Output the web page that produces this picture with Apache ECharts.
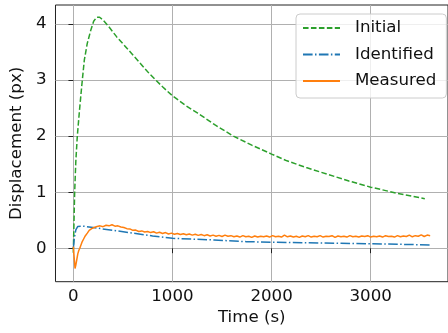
<!DOCTYPE html>
<html>
<head>
<meta charset="utf-8">
<script src="https://cdn.jsdelivr.net/npm/echarts@6/dist/echarts.min.js"></script>
<style>html,body{margin:0;padding:0;background:#fff}#c{width:448px;height:333px}</style>
</head>
<body>
<div id="c"></div>
<script>
const xTicks = [0, 1000, 2000, 3000];
const yTicks = [0, 1, 2, 3, 4];

const initialT = [0, 5, 13, 25, 40, 62, 85, 111, 140, 176, 205, 235, 265, 300, 350, 438, 550, 650, 764, 900, 1000, 1130, 1255, 1430, 1615, 1800, 2000, 2155, 2350, 2564, 2780, 3000, 3270, 3546];
const initialV = [-0.08, 0.35, 0.98, 1.55, 2.0, 2.46, 2.9, 3.36, 3.65, 3.89, 4.05, 4.12, 4.12, 4.07, 3.97, 3.77, 3.55, 3.35, 3.12, 2.88, 2.72, 2.55, 2.41, 2.2, 2.0, 1.84, 1.68, 1.56, 1.44, 1.32, 1.2, 1.09, 0.98, 0.885];

const identT = [0, 10, 25, 45, 60, 100, 200, 400, 600, 800, 1000, 1419, 1745, 2000, 2500, 3000, 3600];
const identV = [0.0, 0.18, 0.33, 0.39, 0.40, 0.395, 0.37, 0.32, 0.27, 0.22, 0.178, 0.148, 0.118, 0.107, 0.093, 0.082, 0.06];

const measT = [0, 5, 10, 17, 25, 35, 45, 55, 65, 76, 90, 105, 120, 141, 160, 185,
  210, 240, 270, 300, 330, 360, 390, 420, 450, 480, 510, 540, 570, 600, 630, 660, 690, 720, 750, 780,
  810, 840, 870, 900, 930, 960, 990, 1020, 1050, 1080, 1110, 1140, 1170, 1200, 1230, 1260, 1290, 1320,
  1350, 1380, 1410, 1440, 1470, 1500, 1530, 1560, 1590, 1620, 1650, 1680, 1710, 1740, 1770, 1800, 1830,
  1860, 1890, 1920, 1950, 1980, 2010, 2040, 2070, 2100, 2130, 2160, 2190, 2220, 2250, 2280, 2310, 2340,
  2370, 2400, 2430, 2460, 2490, 2520, 2550, 2580, 2610, 2640, 2670, 2700, 2730, 2760, 2790, 2820, 2850,
  2880, 2910, 2940, 2970, 3000, 3030, 3060, 3090, 3120, 3150, 3180, 3210, 3240, 3270, 3300, 3330, 3360,
  3390, 3420, 3450, 3480, 3510, 3540, 3570, 3600];
const measV = [0.03, 0.0, -0.2, -0.36, -0.3, -0.2, -0.1, -0.04, 0.0, 0.03, 0.12, 0.17, 0.22, 0.27, 0.32, 0.35,
  0.37, 0.39, 0.40, 0.385, 0.41, 0.40, 0.42, 0.395, 0.40, 0.38, 0.37, 0.35, 0.345, 0.32, 0.325, 0.30, 0.31, 0.29, 0.30, 0.28,
  0.295, 0.27, 0.285, 0.265, 0.28, 0.255, 0.27, 0.25, 0.265, 0.245, 0.26, 0.24, 0.255, 0.235, 0.25, 0.23, 0.245, 0.225,
  0.24, 0.22, 0.235, 0.215, 0.23, 0.21, 0.235, 0.215, 0.225, 0.205, 0.22, 0.20, 0.225, 0.205, 0.215, 0.195, 0.22,
  0.20, 0.215, 0.205, 0.22, 0.20, 0.225, 0.205, 0.215, 0.20, 0.235, 0.205, 0.22, 0.20, 0.215, 0.195, 0.22, 0.205,
  0.225, 0.20, 0.215, 0.205, 0.225, 0.20, 0.215, 0.21, 0.225, 0.195, 0.22, 0.205, 0.215, 0.20, 0.225, 0.205, 0.215,
  0.20, 0.22, 0.21, 0.225, 0.20, 0.215, 0.205, 0.22, 0.20, 0.225, 0.21, 0.215, 0.20, 0.225, 0.205, 0.22, 0.21,
  0.235, 0.205, 0.225, 0.215, 0.24, 0.21, 0.235, 0.225];

const zip = (a, b) => a.map((t, i) => [t, b[i]]);
const FONT = 'DejaVu Sans';
const FS = 16.67;

const chart = echarts.init(document.getElementById('c'), null, {renderer: 'canvas'});
chart.setOption({
  animation: false,
  backgroundColor: '#fff',
  grid: {left: 54, top: 5, right: -9.1, bottom: 51.3, show: true, borderColor: '#222', borderWidth: 1, backgroundColor: 'transparent'},
  legend: {
    orient: 'vertical', left: 296, top: 14,
    padding: [4, 10, 7, 6], itemGap: 6.5, itemWidth: 37, itemHeight: 20,
    backgroundColor: 'rgba(255,255,255,0.8)', borderColor: '#cccccc', borderWidth: 1, borderRadius: 4,
    itemStyle: {opacity: 0},
    textStyle: {fontFamily: FONT, fontSize: FS, color: '#111', padding: [0, 0, 0, 10], lineHeight: 20},
    data: ['Initial', 'Identified', 'Measured']
  },
  xAxis: {
    type: 'value', min: -180, max: 3780,
    name: 'Time (s)', nameLocation: 'middle', nameGap: 25,
    nameTextStyle: {fontFamily: FONT, fontSize: FS, color: '#111'},
    axisLine: {show: false},
    axisTick: {show: true, length: 4.9, lineStyle: {color: '#222', width: 1}, customValues: xTicks},
    axisLabel: {fontFamily: FONT, fontSize: FS, color: '#111', margin: 6, customValues: xTicks, formatter: v => String(v)},
    splitLine: {show: true, lineStyle: {color: '#b0b0b0', width: 1}}
  },
  yAxis: {
    type: 'value', min: -0.596, max: 4.339,
    name: 'Displacement (px)', nameLocation: 'middle', nameGap: 19, nameRotate: 90,
    nameTextStyle: {fontFamily: FONT, fontSize: FS, color: '#111'},
    axisLine: {show: false},
    axisTick: {show: true, length: 4.9, lineStyle: {color: '#222', width: 1}, customValues: yTicks},
    axisLabel: {fontFamily: FONT, fontSize: FS, color: '#111', margin: 9, customValues: yTicks, formatter: v => String(v)},
    splitLine: {show: true, lineStyle: {color: '#b0b0b0', width: 1}}
  },
  series: [
    {name: 'Initial', type: 'line', data: zip(initialT, initialV), symbol: 'none', color: '#2ca02c',
     lineStyle: {width: 1.5, type: [5.55, 2.4], color: '#2ca02c'}},
    {name: 'Identified', type: 'line', data: zip(identT, identV), symbol: 'none', color: '#1f77b4',
     lineStyle: {width: 1.5, type: [9.6, 2.4, 1.5, 2.4], color: '#1f77b4'}},
    {name: 'Measured', type: 'line', data: zip(measT, measV), symbol: 'none', color: '#ff7f0e',
     lineStyle: {width: 1.5, color: '#ff7f0e'}}
  ]
});
</script>
</body>
</html>
